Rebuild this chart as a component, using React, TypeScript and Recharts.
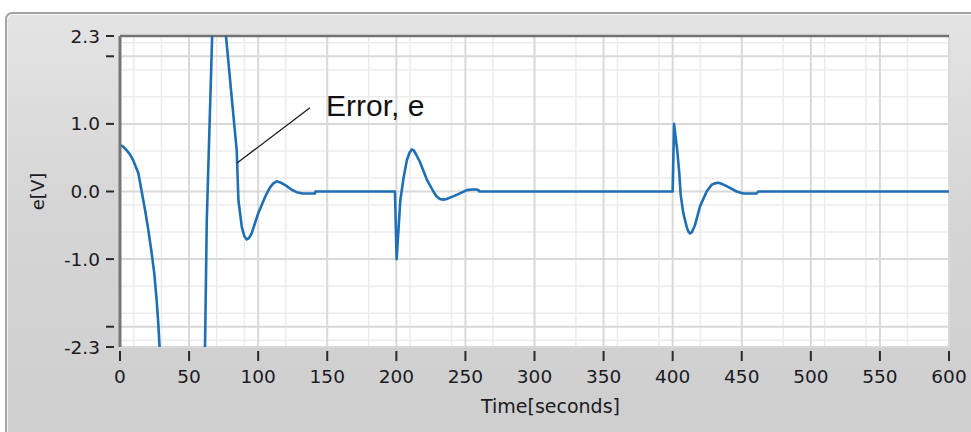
import React from 'react';
import {
  LineChart,
  Line,
  XAxis,
  YAxis,
  CartesianGrid,
  ReferenceLine,
  ReferenceDot,
  Label,
} from 'recharts';

// Controller error e [V] over time [s]
const timeSec = [
  0, 2.5, 4.8, 7.2, 9.6, 13.3, 15.7, 18.1, 20.5, 22.9, 24.8, 26.5, 27.7, 28.5, 30, 35, 42, 50, 57,
  60.8, 62.8, 66.7, 68.5, 72, 75, 76.7, 81, 84.5, 85.7, 88.2, 90, 91.7, 93.3, 95.3, 99.9, 105,
  108.6, 111, 113.4, 116.5, 120.7, 124, 127.9, 132.4, 141, 141.5,
  199, 200.2, 202.9, 205.3, 207.7, 209.5, 211, 212.5, 214.5, 217, 222, 226.8, 229, 231.6, 234,
  236.4, 243.7, 251, 255, 258, 259.5, 260,
  400, 401, 403.3, 404.8, 405.8, 407.7, 410.1, 411.3, 412.5, 414, 416.1, 419.8, 424.6, 428.2,
  430.5, 433, 436, 439.1, 446.3, 451.1, 460.8, 462, 600,
];
const errorV = [
  0.69, 0.66, 0.61, 0.55, 0.46, 0.27, 0.0, -0.27, -0.57, -0.91, -1.21, -1.6, -1.95, -2.25, -2.7,
  -3.6, -4.1, -4.0, -3.7,
  -3.4, -0.43, 2.3, 3.1, 3.4, 2.9, 2.3, 1.36, 0.6, -0.13, -0.53, -0.66, -0.71, -0.69, -0.62,
  -0.33, -0.08,
  0.06, 0.12, 0.15, 0.13, 0.08, 0.03, -0.01, -0.03, -0.03, 0,
  0, -1.0, -0.13, 0.21, 0.47, 0.57, 0.62, 0.61, 0.54, 0.44, 0.18, 0.0, -0.07, -0.11, -0.12,
  -0.11, -0.05, 0.02, 0.03, 0.03, 0.02, 0,
  0, 1.0, 0.61, 0.27, -0.05, -0.32, -0.52, -0.59, -0.62, -0.6, -0.5, -0.22, 0.0, 0.1,
  0.12, 0.13, 0.11, 0.08, 0.0, -0.03, -0.03, 0, 0,
];

const xTicks = [0, 50, 100, 150, 200, 250, 300, 350, 400, 450, 500, 550, 600];
const xMinorTicks = [
  0, 10, 20, 30, 40, 50, 60, 70, 80, 90, 100, 110, 120, 130, 140, 150, 160, 170, 180, 190, 200,
  210, 220, 230, 240, 250, 260, 270, 280, 290, 300, 310, 320, 330, 340, 350, 360, 370, 380, 390,
  400, 410, 420, 430, 440, 450, 460, 470, 480, 490, 500, 510, 520, 530, 540, 550, 560, 570, 580,
  590, 600,
];
const yTicks = [-2.3, -2, -1, 0, 1, 2, 2.3];
const yLabeledTicks = [-2.3, -1, 0, 1, 2.3];
const yMinorTicks = [
  -2.2, -2, -1.8, -1.6, -1.4, -1.2, -1, -0.8, -0.6, -0.4, -0.2, 0, 0.2, 0.4, 0.6, 0.8, 1, 1.2,
  1.4, 1.6, 1.8, 2, 2.2,
];

const annotationText = 'Error, e';
const leaderFrom = { x: 84.7, y: 0.42 };
const leaderTo = { x: 137.5, y: 1.24 };

const data = timeSec.map((t, i) => ({ t, e: errorV[i] }));

const TICK_FONT = '"DejaVu Sans", Verdana, sans-serif';
const TEXT_COLOR = '#1b1b24';

const YTick = (props: any) => {
  const { x, y, payload } = props;
  const v = payload.value as number;
  const labeled = yLabeledTicks.some((k) => Math.abs(k - v) < 1e-9);
  return (
    <g>
      <line x1={x + 6} x2={x + 14} y1={y} y2={y} stroke="#2a2a2a" strokeWidth={2} />
      {labeled && (
        <text
          x={x}
          y={y}
          dy={6.6}
          textAnchor="end"
          fontFamily={TICK_FONT}
          fontSize={18.5}
          fill={TEXT_COLOR}
        >
          {v.toFixed(1)}
        </text>
      )}
    </g>
  );
};

const XTick = (props: any) => {
  const { x, y, payload } = props;
  return (
    <g>
      <line x1={x} x2={x} y1={y + 4} y2={y + 14} stroke="#2a2a2a" strokeWidth={2} />
      <text
        x={x}
        y={y + 36}
        textAnchor="middle"
        fontFamily={TICK_FONT}
        fontSize={18.5}
        fill={TEXT_COLOR}
      >
        {payload.value}
      </text>
    </g>
  );
};

const TimeLabel = (props: any) => {
  const vb = props.viewBox;
  return (
    <text
      x={vb.x + vb.width / 2 + 16}
      y={vb.y + 66}
      textAnchor="middle"
      fontFamily={TICK_FONT}
      fontSize={19}
      fill={TEXT_COLOR}
    >
      Time[seconds]
    </text>
  );
};

const VoltLabel = (props: any) => {
  const vb = props.viewBox;
  const cx = vb.x + 44;
  const cy = vb.y + vb.height / 2;
  return (
    <text
      x={cx}
      y={cy}
      textAnchor="middle"
      transform={`rotate(-90, ${cx}, ${cy})`}
      fontFamily={TICK_FONT}
      fontSize={18}
      fill={TEXT_COLOR}
    >
      e[V]
    </text>
  );
};

const AnnotationLabel = (props: any) => {
  const vb = props.viewBox;
  return (
    <text
      x={vb.x + 16}
      y={vb.y + 8.5}
      fontFamily='"Liberation Sans", Arial, sans-serif'
      fontSize={30}
      fill="#111"
    >
      {annotationText}
    </text>
  );
};

export default function App() {
  return (
    <div
      style={{
        position: 'absolute',
        left: 0,
        top: 0,
        width: 971,
        height: 432,
        background: '#ffffff',
        overflow: 'hidden',
      }}
    >
      <div
        style={{
          position: 'absolute',
          left: 5,
          top: 12,
          width: 1000,
          height: 460,
          boxSizing: 'border-box',
          border: '2px solid #a4a4a4',
          borderRadius: 7,
          boxShadow: 'inset 1px 1px 0 #f4f4f4',
          background: 'linear-gradient(#e4e4e4, #d6d6d6 40%, #cdcdcd)',
        }}
      />
      <div style={{ position: 'absolute', left: 0, top: 0 }}>
        <LineChart
          width={971}
          height={432}
          data={data}
          margin={{ top: 36, right: 22, bottom: 25, left: 0 }}
        >
          <XAxis xAxisId="minor" type="number" dataKey="t" domain={[0, 600]} ticks={xMinorTicks} hide />
          <YAxis
            yAxisId="minor"
            type="number"
            domain={[-2.3, 2.3]}
            allowDataOverflow
            ticks={yMinorTicks}
            hide
          />
          <CartesianGrid
            xAxisId="minor"
            yAxisId="minor"
            fill="#ffffff"
            stroke="#ececec"
            strokeWidth={1.5}
          />
          <CartesianGrid stroke="#d9d9d9" strokeWidth={2} />
          <XAxis
            type="number"
            dataKey="t"
            domain={[0, 600]}
            ticks={xTicks}
            interval={0}
            height={60}
            axisLine={false}
            tickLine={false}
            tickSize={0}
            tickMargin={0}
            tick={<XTick />}
          >
            <Label content={<TimeLabel />} />
          </XAxis>
          <YAxis
            type="number"
            domain={[-2.3, 2.3]}
            allowDataOverflow
            ticks={yTicks}
            interval={0}
            width={120}
            axisLine={{ stroke: '#767676', strokeWidth: 3 }}
            tickLine={false}
            tickSize={0}
            tickMargin={20}
            tick={<YTick />}
          >
            <Label content={<VoltLabel />} />
          </YAxis>
          <ReferenceLine y={2.3} stroke="#727272" strokeWidth={2.5} />
          <Line
            type="linear"
            dataKey="e"
            stroke="#1f6fb4"
            strokeWidth={2.6}
            strokeLinejoin="round"
            dot={false}
            isAnimationActive={false}
          />
          <ReferenceLine segment={[leaderFrom, leaderTo]} stroke="#1a1a1a" strokeWidth={1.3} />
          <ReferenceDot
            x={leaderTo.x}
            y={leaderTo.y}
            r={0}
            fill="none"
            stroke="none"
            label={<AnnotationLabel />}
          />
        </LineChart>
      </div>
    </div>
  );
}
